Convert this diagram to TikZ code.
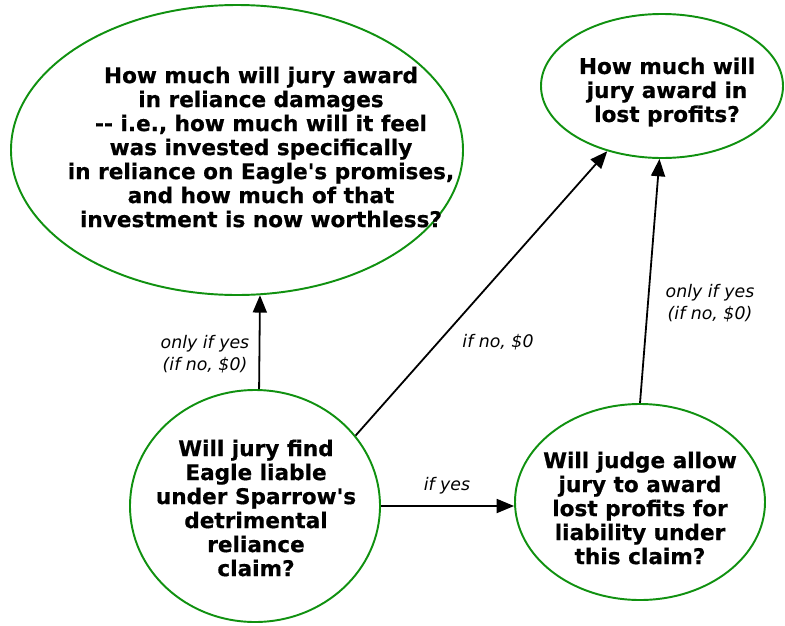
\documentclass[tikz,border=0pt]{standalone}
\usepackage{fontspec}
\setmainfont{DejaVu Sans}[Ligatures=TeXOff]
\newfontfamily\qfont{DejaVu Sans Bold}[Ligatures=TeXOff, FakeBold=0.6]
\usetikzlibrary{shapes}
\usetikzlibrary{arrows.meta}

\definecolor{nodegreen}{RGB}{16,145,16}

\tikzset{
  question/.style={ellipse, draw=nodegreen, line width=1.45pt, inner sep=0pt},
  qtext/.style={align=center, inner sep=0pt, font=\fontsize{16.2}{18}\selectfont\qfont},
  edgelabel/.style={align=center, inner sep=0pt, font=\fontsize{13}{16.5}\selectfont\itshape},
  edge/.style={->, line width=1.35pt},
}

\begin{document}
\begin{tikzpicture}[x=0.75pt, y=-0.75pt, >={Triangle[length=13pt,width=10.5pt]}]
\useasboundingbox (0,0) rectangle (785,625);

%questions
\node[question, minimum width=339pt, minimum height=217.5pt] (reliance) at (237,150) {};
\node[qtext] (reliancetext) at (261,147) {How much will jury award\\in reliance damages\\-{}- i.e., how much will it feel\\was invested specifically\\in reliance on Eagle's promises,\\and how much of that\\investment is now worthless?};

\node[question, minimum width=181.5pt, minimum height=108pt] (lost) at (662,86) {};
\node[qtext] (losttext) at (667,92) {How much will\\jury award in\\lost profits?};

\node[question, minimum width=187.5pt, minimum height=174pt] (liable) at (255,506) {};
\node[qtext] (liabletext) at (256,508) {Will jury find\\Eagle liable\\under Sparrow's\\detrimental\\reliance\\claim?};

\node[question, minimum width=187.5pt, minimum height=147pt] (judge) at (640,502) {};
\node[qtext] (judgetext) at (640,508) {Will judge allow\\jury to award\\lost profits for\\liability under\\this claim?};

%edges
\draw[edge] (liable.88.5) -- (reliance.-81.4);
\draw[edge] (liable.35.4) -- (lost.230.4);
\draw[edge] (liable.east) -- (liable.east -| judge.west);
\draw[edge] (judge.north) -- (lost.268.4);

%labels
\node[edgelabel] (relyes) at (205,354) {only if yes\\(if no, \$0)};
\node[edgelabel] (lostno) at (498,342) {if no, \$0};
\node[edgelabel] (judgeyes) at (447,486) {if yes};
\node[edgelabel] (lostyes) at (710,303) {only if yes\\(if no, \$0)};
\end{tikzpicture}
\end{document}
